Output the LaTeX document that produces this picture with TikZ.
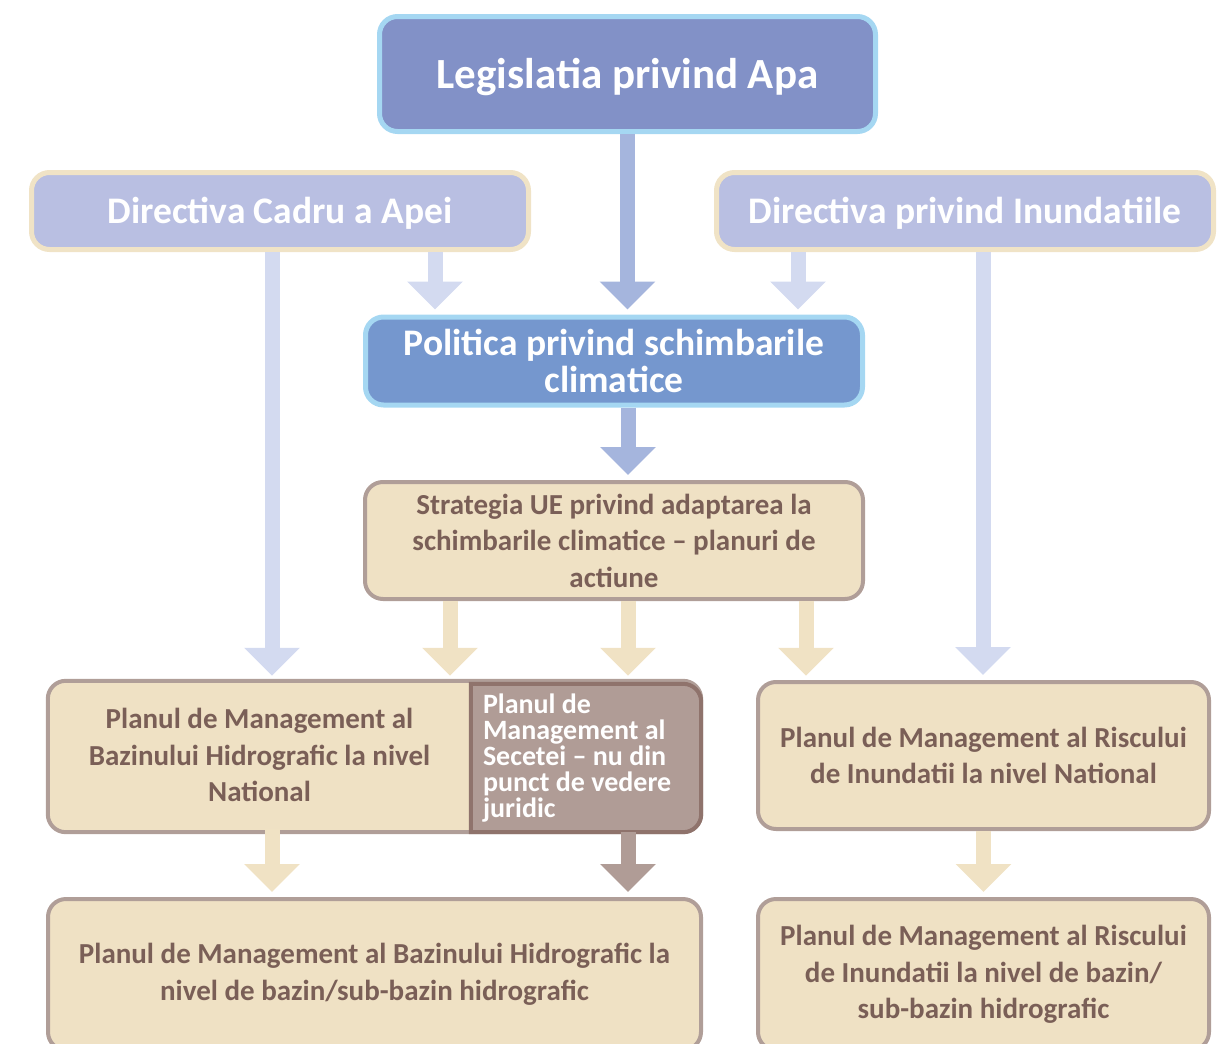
\documentclass[tikz,border=0pt]{standalone}
\usepackage{fontspec}
\setmainfont{Carlito}
\usetikzlibrary{arrows.meta,backgrounds}

\definecolor{legfill}{HTML}{8291C7}
\definecolor{skyline}{HTML}{A5D7F2}
\definecolor{dirfill}{HTML}{B9BFE2}
\definecolor{dirline}{HTML}{F0E3C6}
\definecolor{polfill}{HTML}{7597CE}
\definecolor{tanfill}{HTML}{EFE1C4}
\definecolor{tanline}{HTML}{B09E98}
\definecolor{tantext}{HTML}{7A5F57}
\definecolor{secfill}{HTML}{B09C96}
\definecolor{secline}{HTML}{8F736C}
\definecolor{palearr}{HTML}{D3DAF0}
\definecolor{midarr}{HTML}{A5B5DD}
\definecolor{tanarr}{HTML}{F0E2C4}

\begin{document}
\begin{tikzpicture}[x=1pt,y=-1pt]
	\tikzset{
		box/.style={rectangle,rounded corners=18pt,inner sep=0pt,align=center,font=\bfseries},
		bluebox/.style={box,fill=legfill,draw=skyline,line width=5pt,text=white},
		dirbox/.style={box,fill=dirfill,draw=dirline,line width=5pt,text=white},
		polbox/.style={box,fill=polfill,draw=skyline,line width=5pt,text=white},
		tanbox/.style={box,fill=tanfill,draw=tanline,line width=4pt,text=tantext},
		blk/.style={line width=15pt,-{Triangle[width=54pt,length=28pt]}},
		palearrow/.style={blk,draw=palearr,shorten >=5pt},
		midarrow/.style={blk,draw=midarr,shorten >=5pt},
		tanarrow/.style={blk,draw=tanarr,shorten >=5pt},
		secarrow/.style={blk,draw=secfill,shorten >=5pt}
	}
	\useasboundingbox (0,0) rectangle (1224,1044);

	\node[bluebox,minimum width=496,minimum height=115,text height=36pt,font=\bfseries\fontsize{43}{46}\selectfont] (leg) at (627.5,74) {Legislatia privind Apa};
	\node[dirbox,minimum width=497,minimum height=77,text height=31pt,font=\bfseries\fontsize{37.5}{40}\selectfont] (dca) at (280,211) {Directiva Cadru a Apei};
	\node[dirbox,minimum width=497,minimum height=77,text height=31pt,font=\bfseries\fontsize{37.5}{40}\selectfont] (dpi) at (965,211) {Directiva privind Inundatiile};
	\node[polbox,minimum width=497,minimum height=88,font=\bfseries\fontsize{37.5}{37}\selectfont] (pol) at (614,361) {Politica privind schimbarile\\climatice};
	\node[tanbox,minimum width=498,minimum height=117,font=\bfseries\fontsize{29}{36.5}\selectfont] (strat) at (614,540.5) {Strategia UE privind adaptarea la\\schimbarile climatice -- planuri de\\actiune};

	\node[box,minimum width=423,minimum height=148,text=tantext,font=\bfseries\fontsize{29}{36.5}\selectfont] (pmbh) at (259.5,755) {Planul de Management al\\Bazinului Hidrografic la nivel\\National};
	\node[box,minimum width=230,minimum height=148,text=white,align=flush left,text width=206,font=\bfseries\fontsize{28}{26}\selectfont] (sec) at (586,758) {Planul de\\Management al\\Secetei -- nu din\\punct de vedere\\juridic};
	\node[tanbox,minimum width=451,minimum height=147,font=\bfseries\fontsize{29}{36.5}\selectfont] (pmri) at (983.5,755.5) {Planul de Management al Riscului\\de Inundatii la nivel National};

	\node[tanbox,minimum width=653,minimum height=151,font=\bfseries\fontsize{29}{36.5}\selectfont] (pmbhb) at (374.5,974.5) {Planul de Management al Bazinului Hidrografic la\\nivel de bazin/sub-bazin hidrografic};
	\node[tanbox,minimum width=451,minimum height=151,font=\bfseries\fontsize{29}{36.5}\selectfont] (pmrib) at (983.5,974.5) {Planul de Management al Riscului\\de Inundatii la nivel de bazin/\\sub-bazin hidrografic};

	% split box behind the two national plans
	\begin{scope}[on background layer]
		\draw[fill=tanfill,draw=tanline,line width=4pt,rounded corners=18pt] (pmbh.north west) rectangle (sec.south east);
		\draw[fill=secfill,draw=secline,line width=4pt] (sec.south west) -- (sec.north west) [rounded corners=18pt] -- (sec.north east) -- (sec.south east) [sharp corners] -- cycle;
	\end{scope}

	% arrows
	\draw[midarrow] (leg.south) -- (leg.south |- pol.north);
	\coordinate (a1) at ([xshift=155pt]dca.south);
	\coordinate (a2) at ([xshift=-167pt]dpi.south);
	\coordinate (a3) at ([xshift=-8pt]dca.south);
	\coordinate (a4) at ([xshift=18pt]dpi.south);
	\draw[palearrow] (a1) -- (a1 |- pol.north);
	\draw[palearrow] (a2) -- (a2 |- pol.north);
	\draw[palearrow] (a3) -- (a3 |- pmbh.north);
	\draw[palearrow] (a4) -- (a4 |- pmri.north);

	\coordinate (b1) at ([xshift=14pt]pol.south);
	\draw[midarrow] (b1) -- (b1 |- strat.north);
	\coordinate (c1) at ([xshift=-164pt]strat.south);
	\coordinate (c2) at ([xshift=14pt]strat.south);
	\coordinate (c3) at ([xshift=192pt]strat.south);
	\draw[tanarrow] (c1) -- (c1 |- pmbh.north);
	\draw[tanarrow] (c2) -- (c2 |- pmbh.north);
	\draw[tanarrow] (c3) -- (c3 |- pmbh.north);

	\coordinate (d1) at ([xshift=12.5pt]pmbh.south);
	\coordinate (d2) at ([xshift=42pt]sec.south);
	\draw[tanarrow] (d1) -- (d1 |- pmbhb.north);
	\draw[secarrow] (d2) -- (d2 |- pmbhb.north);
	\draw[tanarrow] (pmri.south) -- (pmri.south |- pmrib.north);
\end{tikzpicture}
\end{document}
